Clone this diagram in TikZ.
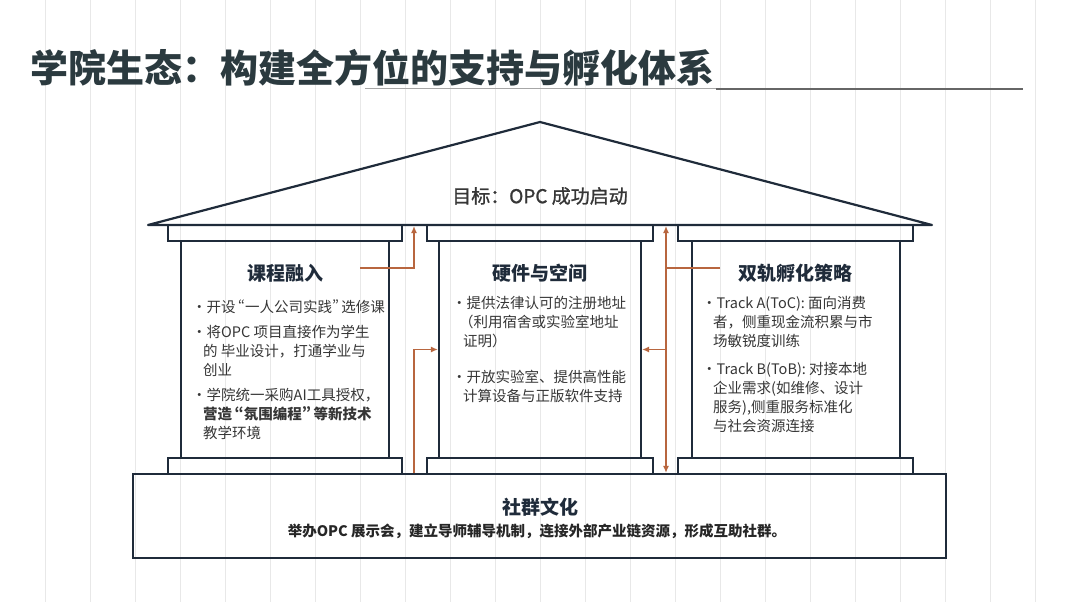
\documentclass[tikz,border=0pt]{standalone}
\usepackage{fontspec}
\setmainfont{Noto Sans CJK SC}
\newfontfamily\midfont{Noto Sans CJK SC}[FakeBold=1.2]
\newcommand\oq{\hspace{2.5pt}{\addfontfeature{RawFeature=+pwid}“}}
\newcommand\cq{{\addfontfeature{RawFeature=+pwid}”}\hspace{2.5pt}}
\usetikzlibrary{arrows.meta}
\definecolor{ink}{HTML}{1F2B3A}
\definecolor{titlegray}{HTML}{2B3A3F}
\definecolor{txt}{HTML}{363636}
\definecolor{flowc}{HTML}{B8663F}
\begin{document}
\begin{tikzpicture}[x=1pt, y=-1pt,
  frame/.style={draw=ink, line width=2.2pt},
  box/.style={frame, rectangle, inner sep=0pt},
  head/.style={font=\fontsize{19}{22}\selectfont\bfseries, text=ink},
  item/.style={anchor=north west, align=left, inner sep=0pt, text=txt, font=\fontsize{14.5}{19}\selectfont},
  flow/.style={draw=flowc, line width=1.5pt, -{Latex[length=7pt,width=6pt]}},
  bgline/.style={draw=black!9, line width=1pt}
]
  \fill[white] (0,0) rectangle (1080,602);
  \useasboundingbox (0,0) rectangle (1080,602);
  \foreach \k in {1,...,23}
    \draw[bgline] (45*\k,0) -- (45*\k,602);

  % title
  \node[anchor=west, inner sep=0pt, font=\fontsize{38}{44}\selectfont\bfseries, text=titlegray] (title) at (30,68) {学院生态：构建全方位的支持与孵化体系};
  \draw[black!35, line width=1pt] (365,89) -- (716,89);
  \draw[black!60, line width=1.3pt] (716,89) -- (1023,89);

  % roof
  \draw[frame, line join=round] (148,225) -- (540,122) -- (932,225) -- cycle;
  \node[font=\fontsize{19}{22}\selectfont\midfont, text=txt] (goal) at (540,196) {目标：OPC 成功启动};

  % pillars
  \draw[frame] (168,225) rectangle (402,241);
  \draw[frame] (427,225) rectangle (653,241);
  \draw[frame] (678,225) rectangle (913,241);
  \node[box, minimum width=208pt, minimum height=217pt] (lpil) at (285,349.5) {};
  \node[box, minimum width=202pt, minimum height=217pt] (mpil) at (540,349.5) {};
  \node[box, minimum width=208pt, minimum height=217pt] (rpil) at (796,349.5) {};
  \draw[frame] (168,458) rectangle (402,474);
  \draw[frame] (427,458) rectangle (653,474);
  \draw[frame] (678,458) rectangle (913,474);

  % base
  \node[box, minimum width=813pt, minimum height=84pt] (base) at (539.5,516) {};
  \node[head] (btitle) at (540,507) {社群文化};
  \node[font=\fontsize{14.5}{17}\selectfont\bfseries, text=black!85] (bsub) at (537,531) {举办OPC 展示会，建立导师辅导机制，连接外部产业链资源，形成互助社群。};

  % headings
  \node[head] (lhead) at (285,273) {课程融入};
  \node[head] (mhead) at (540,273) {硬件与空间};
  \node[head] (rhead) at (795,273) {双轨孵化策略};

  % left items
  \node[item] (l1) at (192,300) {·开设\oq 一人公司实践\cq 选修课};
  \node[item] (l2) at (192,325) {·将OPC 项目直接作为学生\\\hspace*{11pt}的 毕业设计，打通学业与\\\hspace*{11pt}创业};
  \node[item] (l3) at (192,388) {·学院统一采购AI工具授权，\\\hspace*{11pt}\textbf{营造\oq 氛围编程\cq 等新技术}\\\hspace*{11pt}教学环境};

  % middle items
  \node[item] (m1) at (452,296) {·提供法律认可的注册地址\\\hspace*{7pt}（利用宿舍或实验室地址\\\hspace*{11pt}证明）};
  \node[item] (m2) at (452,370) {·开放实验室、提供高性能\\\hspace*{11pt}计算设备与正版软件支持};

  % right items
  \node[item] (r1) at (702,296) {·Track A(ToC): 面向消费\\\hspace*{11pt}者，侧重现金流积累与市\\\hspace*{11pt}场敏锐度训练};
  \node[item] (r2) at (702,362) {·Track B(ToB): 对接本地\\\hspace*{11pt}企业需求(如维修、设计\\\hspace*{11pt}服务),侧重服务标准化\\\hspace*{11pt}与社会资源连接};

  % connectors
  \coordinate (lsrc) at (360,268);
  \coordinate (ltop) at (414,226);
  \coordinate (rtop) at (666,226);
  \coordinate (rsrc) at (720,268);
  \draw[flow] (lsrc) -| (ltop);
  \draw[flow] (base.north -| ltop) |- (mpil.west);
  \draw[flow, {Latex[length=7pt,width=6pt]}-{Latex[length=7pt,width=6pt]}] (rtop) -- (base.north -| rtop);
  \draw[draw=flowc, line width=1.5pt] (rsrc) -- (rsrc -| rtop);
  \draw[flow] (rtop |- mpil.east) -- (mpil.east);
\end{tikzpicture}
\end{document}
